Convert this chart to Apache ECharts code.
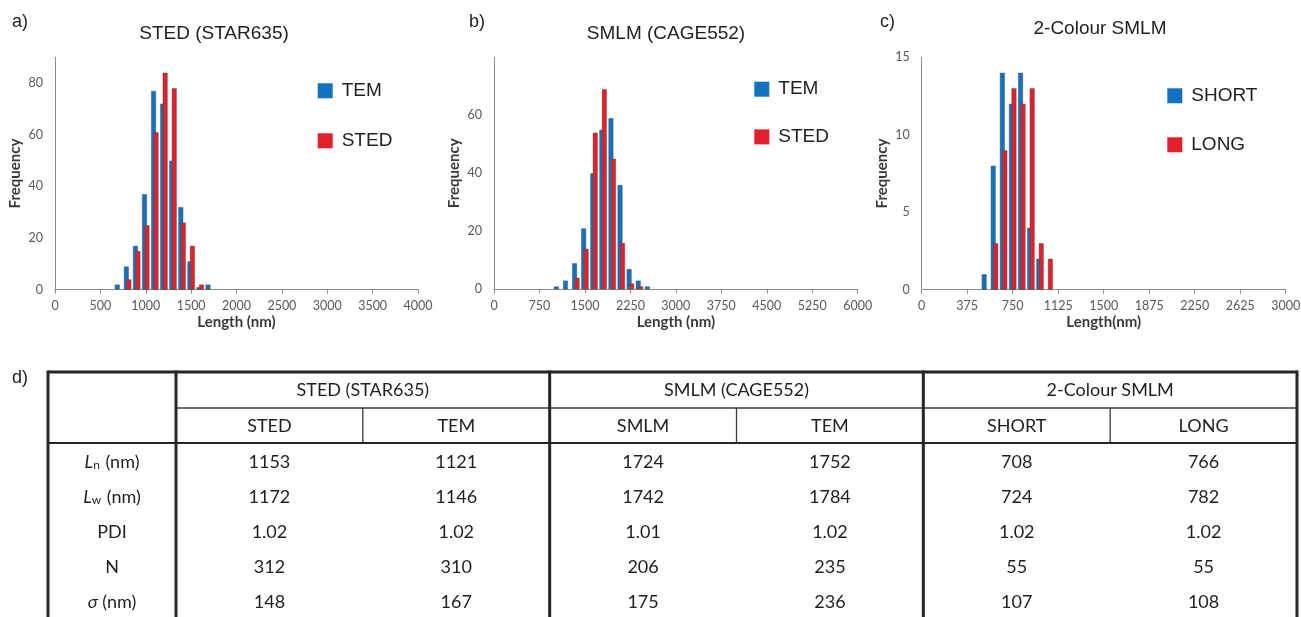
<!DOCTYPE html>
<html><head><meta charset="utf-8">
<script src="https://cdn.jsdelivr.net/npm/echarts@6/dist/echarts.min.js"></script>
<style>html,body{margin:0;padding:0;background:#fff}#c{width:1301px;height:617px}</style>
</head><body><div id="c"></div>
<script>
// ---- Panel a: STED (STAR635) ----
const binsA = [700, 800, 900, 1000, 1100, 1200, 1300, 1400, 1500, 1600, 1700];
const temA  = [2, 9, 17, 37, 77, 72, 50, 32, 11, 1, 2];
const stedA = [0, 4, 15, 25, 61, 84, 78, 26, 17, 2, 0];
// ---- Panel b: SMLM (CAGE552) ----
const binsB = [1050, 1200, 1350, 1500, 1650, 1800, 1950, 2100, 2250, 2400, 2550];
const temB  = [1, 3, 9, 21, 40, 55, 59, 36, 7, 3, 1];
const stedB = [0, 0, 4, 14, 54, 69, 45, 16, 2, 1, 0];
// ---- Panel c: 2-Colour SMLM ----
const binsC  = [525, 600, 675, 750, 825, 900, 975, 1050];
const shortC = [1, 8, 14, 12, 14, 4, 2, 0];
const longC  = [0, 3, 9, 13, 12, 13, 3, 2];

const panelTitles = ['STED (STAR635)', 'SMLM (CAGE552)', '2-Colour SMLM'];
const panelLabels = ['a)', 'b)', 'c)', 'd)'];
const legendNames = [['TEM', 'STED'], ['TEM', 'STED'], ['SHORT', 'LONG']];
const xNames = ['Length (nm)', 'Length (nm)', 'Length(nm)'];
const yName = 'Frequency';
const xMaxes = [4000, 6000, 3000];
const xSteps = [500, 750, 375];
const yMaxes = [90, 80, 15];
const ySteps = [20, 20, 5];

// ---- Table d ----
const groupHeaders = ['STED (STAR635)', 'SMLM (CAGE552)', '2-Colour SMLM'];
const subHeaders = ['STED', 'TEM', 'SMLM', 'TEM', 'SHORT', 'LONG'];
const rowLabels = ['{it|L}{sub|n} (nm)', '{it|L}{sub|w} (nm)', 'PDI', 'N', '{it|σ} (nm)'];
const tableRows = [
  ['1153', '1121', '1724', '1752', '708', '766'],
  ['1172', '1146', '1742', '1784', '724', '782'],
  ['1.02', '1.02', '1.01', '1.02', '1.02', '1.02'],
  ['312', '310', '206', '235', '55', '55'],
  ['148', '167', '175', '236', '107', '108']
];

// ---- styles / layout ----
const BLUE = '#1272bf', RED = '#e3202a';
const AXIS = '#8a8a8a', TICKTXT = '#595959';
const ARIAL = '"Liberation Sans", Arial, sans-serif';
const CAL = 'Lato, "Open Sans", sans-serif';
const grids = [
  {left: 55, top: 57.3, width: 363, height: 232.4},
  {left: 494, top: 57.3, width: 363.7, height: 232},
  {left: 921.7, top: 57.3, width: 364, height: 232.4}
];
const titlePos = [[214, 24], [666, 24], [1100, 19]];
const labelPos = [[12, 13], [469, 13], [880, 13], [12, 369]];
const legendPos = [[317.7, 81.3, 31], [754.3, 79.7, 28.7], [1167.3, 86.3, 30]];

function pairs(bins, vals) {
  const out = [];
  bins.forEach((b, i) => { if (vals[i] > 0) out.push([b, vals[i]]); });
  return out;
}
const seriesData = [
  [pairs(binsA, temA), pairs(binsA, stedA)],
  [pairs(binsB, temB), pairs(binsB, stedB)],
  [pairs(binsC, shortC), pairs(binsC, longC)]
];

const option = {
  animation: false,
  backgroundColor: '#fff',
  title: [],
  legend: [],
  grid: grids.map(g => Object.assign({outerBoundsMode: 'none', containLabel: false}, g)),
  xAxis: [], yAxis: [], series: [], graphic: []
};

for (let p = 0; p < 3; p++) {
  option.title.push({
    text: panelTitles[p], left: titlePos[p][0], top: titlePos[p][1], textAlign: 'center', padding: 0,
    textStyle: {fontFamily: ARIAL, fontSize: 19, fontWeight: 'normal', color: '#1f1f1f'}
  });
  option.legend.push({
    orient: 'vertical', left: legendPos[p][0], top: legendPos[p][1], padding: 0,
    itemGap: legendPos[p][2], itemWidth: 15, itemHeight: 15, icon: 'rect',
    data: legendNames[p], itemStyle: {borderWidth: 0},
    textStyle: {fontFamily: ARIAL, fontSize: 19, color: '#1f1f1f', padding: [0, 0, 0, 4]},
    selectedMode: false
  });
  option.xAxis.push({
    type: 'value', gridIndex: p, min: 0, max: xMaxes[p], interval: xSteps[p],
    name: xNames[p], nameLocation: 'middle', nameGap: 25,
    nameTextStyle: {fontFamily: CAL, fontSize: 15, fontWeight: 'bold', color: '#3a3a3a'},
    axisLine: {show: true, lineStyle: {color: AXIS, width: 1}},
    axisTick: {show: true, inside: false, length: 4, lineStyle: {color: AXIS}},
    axisLabel: {fontFamily: CAL, fontSize: 12.5, color: TICKTXT, margin: 10, formatter: v => String(v)},
    splitLine: {show: false}
  });
  option.yAxis.push({
    type: 'value', gridIndex: p, min: 0, max: yMaxes[p], interval: ySteps[p],
    name: yName, nameLocation: 'middle', nameGap: 32,
    nameTextStyle: {fontFamily: CAL, fontSize: 15, fontWeight: 'bold', color: '#3a3a3a'},
    axisLine: {show: true, lineStyle: {color: AXIS, width: 1}},
    axisTick: {show: false},
    axisLabel: {fontFamily: CAL, fontSize: 12.5, color: TICKTXT, margin: 12, showMaxLabel: p === 2,
      formatter: v => String(v)},
    splitLine: {show: false}
  });
  const cols = [BLUE, RED];
  for (let s = 0; s < 2; s++) {
    option.series.push({
      type: 'bar', name: legendNames[p][s], xAxisIndex: p, yAxisIndex: p,
      data: seriesData[p][s], barWidth: 5, barGap: '-50%',
      itemStyle: {color: cols[s], borderColor: 'rgba(80,80,80,0.75)', borderWidth: 0.6},
      emphasis: {disabled: true}
    });
  }
}
for (let i = 0; i < 4; i++) {
  option.title.push({
    text: panelLabels[i], left: labelPos[i][0], top: labelPos[i][1], padding: 0,
    textStyle: {fontFamily: ARIAL, fontSize: 18, fontWeight: 'normal', color: '#1f1f1f'}
  });
}

// ---- table graphic ----
const T = {left: 48, right: 1297, top: 372, h1: 408, h2: 443, bottom: 640, rowH: 35, firstW: 128};
const colW = (T.right - T.left - T.firstW) / 6;
const colEdge = i => T.left + T.firstW + colW * i;
const DARK = '#262626';
const g = option.graphic;
function line(x1, y1, x2, y2, w, c) {
  g.push({type: 'line', silent: true, shape: {x1, y1, x2, y2}, style: {stroke: c || DARK, lineWidth: w}});
}
function txt(x, y, text, extra) {
  g.push({type: 'text', silent: true, x, y, style: Object.assign({
    text, fontFamily: CAL, fontSize: 18, fill: '#1f1f1f', align: 'center', verticalAlign: 'middle'
  }, extra || {})});
}
// thin lines
line(colEdge(0), T.h1, T.right, T.h1, 1.3, '#3a3a3a');
[1, 3, 5].forEach(i => line(colEdge(i), T.h1, colEdge(i), T.h2, 1.3, '#3a3a3a'));
// thick lines
line(T.left, T.top, T.right, T.top, 3);
line(T.left, T.h2, T.right, T.h2, 2.2);
[T.left, colEdge(0), colEdge(2), colEdge(4), T.right].forEach(x => line(x, T.top - 1.5, x, T.bottom, 3));
// texts
groupHeaders.forEach((h, i) => txt((colEdge(2 * i) + colEdge(2 * i + 2)) / 2, 390, h));
subHeaders.forEach((h, i) => txt((colEdge(i) + colEdge(i + 1)) / 2, 426, h));
const richStyle = {
  it: {fontFamily: CAL, fontSize: 18, fontStyle: 'italic', fill: '#1f1f1f'},
  sub: {fontFamily: CAL, fontSize: 12, fill: '#1f1f1f', verticalAlign: 'bottom', lineHeight: 12, padding: [8, 1, 0, 0]}
};
rowLabels.forEach((lab, r) => {
  const y = 462 + T.rowH * r;
  txt(T.left + T.firstW / 2, y, lab, {rich: richStyle});
  tableRows[r].forEach((v, c) => txt((colEdge(c) + colEdge(c + 1)) / 2, y, v));
});

const chart = echarts.init(document.getElementById('c'), null, {renderer: 'canvas'});
chart.setOption(option);
</script>
</body></html>
